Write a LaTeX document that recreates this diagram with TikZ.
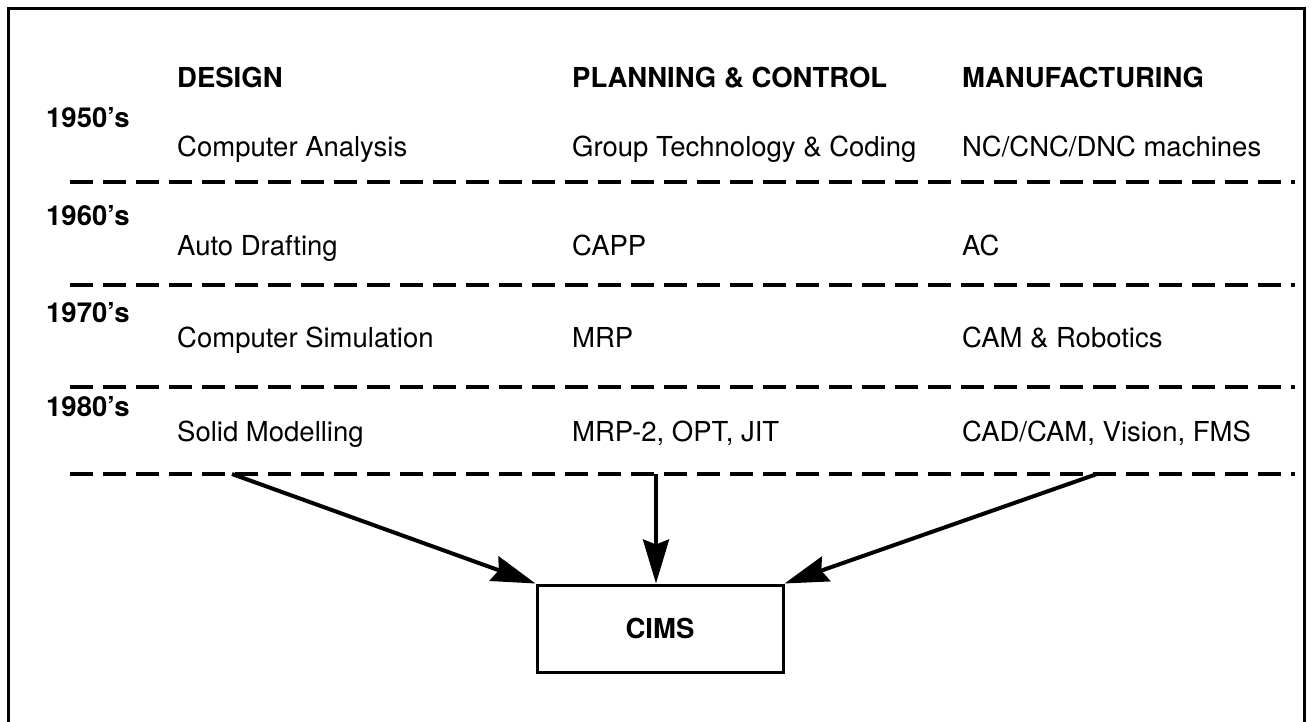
\documentclass[tikz,border=0pt]{standalone}
\usepackage{fontspec}
\setmainfont{TeX Gyre Heros}
\usetikzlibrary{arrows.meta}
\begin{document}
\begin{tikzpicture}[x=1pt,y=-1pt,
  hdr/.style={anchor=base west, inner sep=0pt, font=\fontsize{27.5}{30}\selectfont\bfseries},
  yr/.style={anchor=base west, inner sep=0pt, font=\fontsize{27.5}{30}\selectfont\bfseries},
  item/.style={anchor=base west, inner sep=0pt, font=\fontsize{27.5}{30}\selectfont},
  sep/.style={line width=4pt, dash pattern=on 23pt off 10pt},
  flow/.style={line width=4pt, -{Stealth[length=44pt,width=26pt,inset=5pt]}},
  goal/.style={draw, line width=3pt, minimum width=246pt, minimum height=87pt,
    inner sep=0pt, font=\fontsize{27.5}{30}\selectfont\bfseries}]
\useasboundingbox (0,0) rectangle (1313,722);
% outer frame (open at the bottom)
\draw[line width=3pt] (8,722) -- (8,9) -- (1304,9) -- (1304,722);

% column headings
\node[hdr] (hdesign) at (177,88) {DESIGN};
\node[hdr] (hplan)   at (572,88) {PLANNING \& CONTROL};
\node[hdr] (hmanu)   at (962,88) {MANUFACTURING};

% 1950's
\node[yr]   (y50) at (46,128) {1950's};
\node[item] (d50) at (177,157) {Computer Analysis};
\node[item] (p50) at (572,157) {Group Technology \& Coding};
\node[item] (m50) at (962,157) {NC/CNC/DNC machines};
\draw[sep] (70,182) -- (1295,182);

% 1960's
\node[yr]   (y60) at (46,225) {1960's};
\node[item] (d60) at (177,255) {Auto Drafting};
\node[item] (p60) at (572,255) {CAPP};
\node[item] (m60) at (962,255) {AC};
\draw[sep] (70,285) -- (1295,285);

% 1970's
\node[yr]   (y70) at (46,322) {1970's};
\node[item] (d70) at (177,347) {Computer Simulation};
\node[item] (p70) at (572,347) {MRP};
\node[item] (m70) at (962,347) {CAM \& Robotics};
\draw[sep] (70,387) -- (1295,387);

% 1980's
\node[yr]   (y80) at (46,416) {1980's};
\node[item] (d80) at (177,441) {Solid Modelling};
\node[item] (p80) at (572,441) {MRP-2, OPT, JIT};
\node[item] (m80) at (962,441) {CAD/CAM, Vision, FMS};
\draw[sep] (70,474) -- (1295,474);

% integration target
\node[goal] (cims) at (660,628.5) {CIMS};

\coordinate (fromD) at (232,474);
\coordinate (fromP) at (656,474);
\coordinate (fromM) at (1097,474);
\draw[flow] (fromD) -- (cims.north west);
\draw[flow] (fromP) -- (fromP |- cims.north);
\draw[flow] (fromM) -- (cims.north east);
\end{tikzpicture}
\end{document}
